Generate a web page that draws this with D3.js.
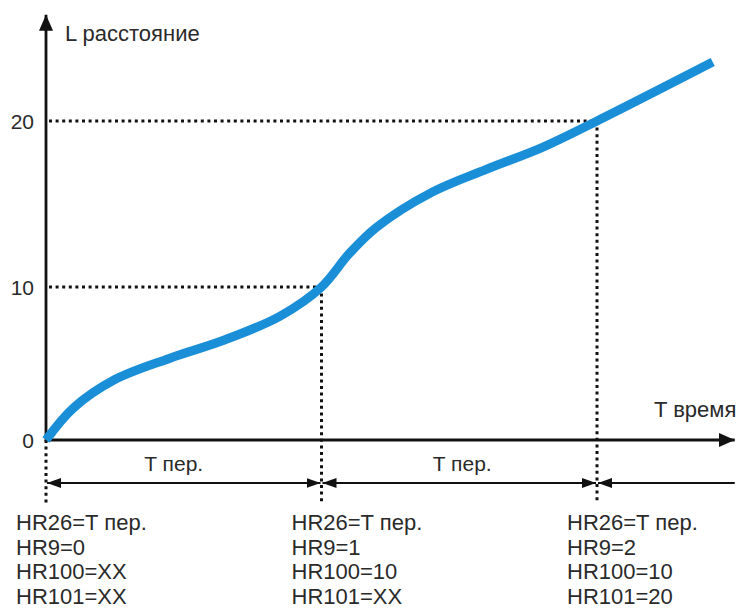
<!DOCTYPE html>
<html>
<head>
<meta charset="utf-8">
<script src="https://cdn.jsdelivr.net/npm/d3@7"></script>
<style>
  body { margin: 0; background: #fff; }
  svg { display: block; font-family: Arial, "Liberation Sans", sans-serif; }
</style>
</head>
<body>
<svg id="chart"></svg>
<script>
// distance vs time (t in periods, L in distance units)
var curveT = [0, 0.1, 0.25, 0.45, 0.65, 0.85, 1.0, 1.1, 1.2, 1.4, 1.6, 1.8, 2.0, 2.42];
var curveL = [0, 2.1, 3.95, 5.35, 6.55, 8.1, 10, 12.0, 13.6, 15.7, 17.1, 18.4, 20, 23.55];

var yTicks = [0, 10, 20];
var periods = [0, 1, 2];
var marks = [[1, 10], [2, 20]];

var hr26 = ["T пер.", "T пер.", "T пер."];
var hr9 = ["0", "1", "2"];
var hr100 = ["XX", "10", "10"];
var hr101 = ["XX", "XX", "20"];

var yLabel = "L расстояние";
var xLabel = "T время";
var periodLabel = "T пер.";

var W = 739, H = 611;
var xMax = 2.5, yMax = 26.4;

var svg = d3.select("#chart").attr("width", W).attr("height", H);

var x = d3.scaleLinear().domain([0, 2]).range([46, 597]);
// schematic drawing: the spacing between 0-10 and 10-20 differs slightly
var y = d3.scaleLinear().domain([0, 10, 20]).range([440, 287, 121]);

var y0 = y(0);
var ink = "#111";
var textCol = "#2a2a2a";

// arrowheads
var defs = svg.append("defs");
function marker(id, len, half) {
    defs.append("marker")
        .attr("id", id)
        .attr("viewBox", "0 0 " + len + " " + (2 * half))
        .attr("refX", len).attr("refY", half)
        .attr("markerWidth", len).attr("markerHeight", 2 * half)
        .attr("markerUnits", "userSpaceOnUse")
        .attr("orient", "auto-start-reverse")
        .append("path")
        .attr("d", "M0,0 L" + len + "," + half + " L0," + (2 * half) + " Z")
        .attr("fill", ink);
}
marker("axisHead", 16, 7);
marker("dimHead", 14, 5);

// dotted guide lines
var dot = { "stroke": ink, "stroke-width": 3, "stroke-dasharray": "3,3.6" };
function applyAttrs(sel, a) { for (var k in a) sel.attr(k, a[k]); return sel; }

marks.forEach(function (m) {
    applyAttrs(svg.append("line")
        .attr("x1", x(0) + 3).attr("x2", x(m[0]))
        .attr("y1", y(m[1])).attr("y2", y(m[1])), dot);
});
periods.forEach(function (p, i) {
    var top = i === 0 ? y0 : y(marks[i - 1][1]);
    applyAttrs(svg.append("line")
        .attr("x1", x(p)).attr("x2", x(p))
        .attr("y1", top).attr("y2", y0 + 63), dot);
});

// axes
svg.append("line")
    .attr("x1", x(0)).attr("x2", x(xMax))
    .attr("y1", y0).attr("y2", y0)
    .attr("stroke", ink).attr("stroke-width", 2.8)
    .attr("marker-end", "url(#axisHead)");
svg.append("line")
    .attr("x1", x(0)).attr("x2", x(0))
    .attr("y1", y0 + 1).attr("y2", y(yMax))
    .attr("stroke", ink).attr("stroke-width", 2.8)
    .attr("marker-end", "url(#axisHead)");

svg.selectAll(".ytick").data(yTicks).enter().append("text")
    .attr("x", x(0) - 12).attr("y", function (d) { return y(d); })
    .attr("dy", "0.36em")
    .attr("text-anchor", "end")
    .attr("font-size", 21).attr("fill", textCol)
    .text(function (d) { return d; });

svg.append("text").attr("x", x(0) + 19).attr("y", 41)
    .attr("font-size", 22).attr("fill", textCol).text(yLabel);
svg.append("text").attr("x", 654).attr("y", y0 - 23)
    .attr("font-size", 22).attr("fill", textCol).text(xLabel);

// period dimension arrows
var dimY = y0 + 43;
var labelShift = [-10, 3];
[[0, 1], [1, 2]].forEach(function (s, i) {
    svg.append("line")
        .attr("x1", x(s[0]) + 1).attr("x2", x(s[1]) - 1)
        .attr("y1", dimY).attr("y2", dimY)
        .attr("stroke", ink).attr("stroke-width", 2.2)
        .attr("marker-start", "url(#dimHead)")
        .attr("marker-end", "url(#dimHead)");
    svg.append("text")
        .attr("x", (x(s[0]) + x(s[1])) / 2 + labelShift[i]).attr("y", y0 + 31)
        .attr("text-anchor", "middle")
        .attr("font-size", 21).attr("fill", textCol)
        .text(periodLabel);
});
svg.append("line")
    .attr("x1", x(2) + 1).attr("x2", x(xMax))
    .attr("y1", dimY).attr("y2", dimY)
    .attr("stroke", ink).attr("stroke-width", 2.2)
    .attr("marker-start", "url(#dimHead)");

// register settings under each period boundary
periods.forEach(function (p, i) {
    var lines = ["HR26=" + hr26[i], "HR9=" + hr9[i], "HR100=" + hr100[i], "HR101=" + hr101[i]];
    var t = svg.append("text")
        .attr("x", x(p) - 30).attr("y", y0 + 90)
        .attr("font-size", 22).attr("fill", textCol);
    lines.forEach(function (s, k) {
        t.append("tspan").attr("x", x(p) - 30).attr("dy", k === 0 ? 0 : 24.7).text(s);
    });
});

// the curve
var line = d3.line()
    .x(function (d, i) { return x(curveT[i]); })
    .y(function (d, i) { return y(curveL[i]); })
    .curve(d3.curveCatmullRom.alpha(0.5));

svg.append("path")
    .attr("d", line(curveT))
    .attr("fill", "none")
    .attr("stroke", "#1a8fd7")
    .attr("stroke-width", 9)
    .attr("stroke-linecap", "butt")
    .attr("stroke-linejoin", "round");
</script>
</body>
</html>
